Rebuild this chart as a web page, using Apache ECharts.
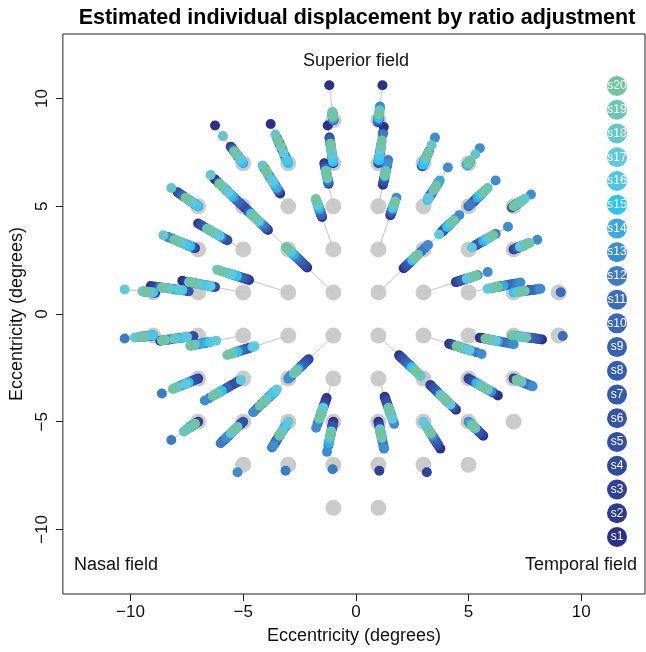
<!DOCTYPE html>
<html>
<head>
<meta charset="utf-8">
<script src="https://cdn.jsdelivr.net/npm/echarts@6/dist/echarts.min.js"></script>
<style>
  html, body { margin: 0; padding: 0; background: #fff; }
  #main { width: 646px; height: 652px; }
</style>
</head>
<body>
<div id="main"></div>
<script>
// test locations (degrees), top row to bottom row, left to right
const locX = [-1, 1,
  -5, -3, -1, 1, 3, 5,
  -7, -5, -3, -1, 1, 3, 5, 7,
  -7, -5, -3, -1, 1, 3, 5, 7,
  -9, -7, -5, -3, -1, 1, 3, 5, 7, 9,
  -9, -7, -5, -3, -1, 1, 3, 5, 7, 9,
  -7, -5, -3, -1, 1, 3, 5, 7,
  -7, -5, -3, -1, 1, 3, 5, 7,
  -5, -3, -1, 1, 3, 5,
  -1, 1];
const locY = [9, 9,
  7, 7, 7, 7, 7, 7,
  5, 5, 5, 5, 5, 5, 5, 5,
  3, 3, 3, 3, 3, 3, 3, 3,
  1, 1, 1, 1, 1, 1, 1, 1, 1, 1,
  -1, -1, -1, -1, -1, -1, -1, -1, -1, -1,
  -3, -3, -3, -3, -3, -3, -3, -3,
  -5, -5, -5, -5, -5, -5, -5, -5,
  -7, -7, -7, -7, -7, -7,
  -9, -9];

const subjects = ['s1','s2','s3','s4','s5','s6','s7','s8','s9','s10',
  's11','s12','s13','s14','s15','s16','s17','s18','s19','s20'];
const subjectColors = ['#2b3088','#2d3a92','#2e4299','#2f4aa0','#3150a6','#3254a9','#3459ad','#355db0','#3662b4','#3967b7',
  '#3a6dbb','#3c7bc5','#3d8dcf','#3ca8e0','#2cc4f4','#4bc6ea','#60c8dc','#66c6c7','#6cc6b6','#70c4a0'];

const N = null;
// displacement ratio per location, one value per subject (s1..s20)
const ratioRow9 = [
  [1.18,1.02,1.00,1.03,1.01,1.04,1.00,1.02,1.03,1.01,1.02,1.00,1.03,1.01,1.02,1.03,1.02,1.04,1.03,1.02],
  [1.18,1.00,1.02,0.99,1.01,1.00,1.02,1.00,1.01,1.03,1.00,1.06,1.07,1.02,1.01,1.03,1.04,1.05,1.04,1.03]
];
const ratioRow7 = [
  [1.25,1.11,1.06,1.10,1.04,1.08,1.02,1.09,1.03,1.05,1.07,1.01,1.04,1.00,1.01,1.02,1.03,1.18,1.06,1.08],
  [1.26,1.16,1.12,1.14,1.06,1.10,1.04,1.08,1.02,1.13,1.05,1.09,1.03,1.01,1.00,1.02,1.07,1.19,1.11,1.15],
  [1.25,1.17,1.00,1.14,1.02,1.12,1.05,1.16,1.03,1.10,1.08,1.13,1.06,1.04,1.01,1.03,1.06,1.09,1.11,1.13],
  [1.24,1.02,1.20,1.00,1.05,1.03,1.07,1.01,1.10,1.04,1.12,1.19,1.08,1.03,1.02,1.05,1.09,1.11,1.13,1.15],
  [0.99,1.01,0.98,1.03,1.00,1.05,1.02,1.04,1.06,1.01,1.03,1.08,1.17,1.00,0.99,1.02,1.04,1.12,1.07,1.05],
  [1.00,0.99,1.00,1.01,0.99,1.00,1.01,1.00,0.99,1.00,1.01,1.00,1.10,1.00,0.99,1.00,1.01,1.06,1.00,1.01]
];
const ratioRow5 = [
  [1.02,1.13,1.00,1.11,1.04,1.12,1.06,1.09,1.01,1.10,1.03,1.07,1.05,1.02,1.00,1.01,1.04,1.17,1.06,1.08],
  [1.25,1.03,1.15,1.00,1.10,1.02,1.18,1.06,1.22,1.04,1.12,1.08,1.14,1.09,1.11,1.16,1.13,1.29,1.19,1.21],
  [1.12,1.18,1.14,1.35,1.16,1.22,1.20,1.30,1.15,1.26,1.24,1.19,1.28,1.17,1.21,1.25,1.23,1.38,1.31,1.33],
  [1.40,1.21,1.38,1.23,1.36,1.25,1.33,1.27,1.22,1.35,1.30,1.24,1.32,1.29,1.31,1.28,1.26,1.30,1.33,1.29],
  [1.22,1.20,1.25,1.27,1.23,1.30,1.26,1.34,1.29,1.36,1.38,1.43,1.40,1.31,1.28,1.33,1.30,1.32,1.29,1.31],
  [1.10,1.08,1.12,1.14,1.07,1.16,1.09,1.18,1.11,1.20,1.13,1.22,1.36,1.24,1.06,1.07,1.08,1.17,1.15,1.19],
  [1.04,1.06,1.08,1.10,1.05,1.12,1.07,1.09,1.11,1.13,1.00,1.02,1.24,1.08,1.10,1.12,1.14,1.17,1.15,1.13],
  [1.01,1.00,1.02,0.99,1.01,1.03,1.00,1.02,1.01,1.04,1.02,1.05,1.11,1.03,1.02,1.04,1.05,1.07,1.03,1.00]
];
const ratioRow3 = [
  [1.02,1.04,1.06,1.08,1.03,1.05,1.10,1.16,1.07,1.12,1.19,1.14,1.18,1.09,1.05,1.08,1.11,1.22,1.13,1.15],
  [1.15,1.40,1.17,1.38,1.14,1.36,1.20,1.33,1.22,1.30,1.25,1.19,1.28,1.23,1.26,1.24,1.21,1.27,1.32,1.29],
  [1.32,1.64,1.30,1.60,1.35,1.56,1.40,1.58,1.34,1.53,1.45,1.38,1.50,1.42,1.47,1.55,1.44,1.52,1.48,1.51],
  [1.50,1.53,1.56,1.52,1.60,1.55,1.62,1.58,1.65,1.54,1.68,1.61,1.70,1.63,1.66,1.72,1.69,1.74,1.76,1.78],
  [1.55,1.53,1.58,1.56,1.60,1.57,1.62,1.59,1.64,1.61,1.66,1.70,1.80,1.63,1.67,1.65,1.69,1.72,1.71,1.74],
  [1.30,1.27,1.33,1.29,1.36,1.31,1.38,1.34,1.41,1.37,1.44,1.47,1.53,1.40,1.35,1.39,1.23,1.42,1.45,1.43],
  [1.08,1.06,1.10,1.12,1.07,1.14,1.09,1.16,1.11,1.18,1.20,1.24,1.35,1.13,1.15,1.17,1.03,1.19,1.21,1.22],
  [1.02,1.00,1.03,1.01,1.04,1.02,1.05,1.03,1.06,1.04,1.07,1.09,1.15,1.05,1.06,1.08,1.04,1.07,1.10,1.09]
];
const ratioRow1 = [
  [1.00,1.01,0.99,1.02,1.00,1.01,1.03,1.00,1.02,1.01,1.04,1.05,1.03,1.02,1.01,1.00,1.14,1.02,1.05,1.03],
  [1.30,1.07,1.28,1.09,1.25,1.06,1.22,1.11,1.19,1.13,1.16,1.24,1.15,1.12,1.14,1.10,1.12,1.18,1.21,1.23],
  [1.54,1.28,1.50,1.25,1.46,1.27,1.42,1.30,1.38,1.33,1.35,1.31,1.44,1.36,1.32,1.34,1.29,1.40,1.48,1.45],
  [1.60,1.58,1.65,1.62,1.70,1.66,1.75,1.68,1.80,1.72,1.85,1.78,1.90,1.82,1.76,1.88,1.84,2.05,1.95,2.00],
  [2.16,2.20,2.30,2.25,2.40,2.35,2.50,2.45,2.60,2.55,2.70,2.65,2.80,2.75,2.85,2.90,2.95,3.05,3.00,3.10],
  [2.12,2.18,2.25,2.22,2.35,2.30,2.45,2.40,2.55,2.60,2.90,3.05,3.20,2.65,2.50,2.70,2.58,2.75,2.62,2.68],
  [1.48,1.52,1.50,1.55,1.53,1.58,1.56,1.62,1.60,1.66,1.70,1.80,1.95,1.74,1.68,1.72,1.64,1.76,1.78,1.75],
  [1.25,1.22,1.28,1.26,1.30,1.27,1.33,1.29,1.36,1.38,1.40,1.43,1.46,1.31,1.19,1.21,1.17,1.24,1.23,1.26],
  [1.08,1.06,1.10,1.12,1.09,1.11,1.13,1.10,1.14,1.12,1.15,1.16,1.17,1.04,1.00,1.02,1.03,1.05,1.07,1.04],
  [N,N,N,N,N,N,N,N,N,N,1.01,N,N,N,N,N,N,N,N,N]
];
const ratioRowM1 = [
  [1.02,1.01,1.04,1.00,1.03,1.05,1.02,1.06,1.01,1.03,1.04,1.14,1.07,1.02,1.03,1.00,1.09,1.04,1.05,1.06],
  [1.24,1.04,1.22,1.03,1.20,1.06,1.18,1.08,1.16,1.10,1.12,1.14,1.19,1.11,1.13,1.09,1.07,1.15,1.21,1.23],
  [1.30,1.46,1.32,1.44,1.34,1.42,1.36,1.40,1.38,1.35,1.41,1.33,1.39,1.37,1.31,1.29,1.24,1.43,1.45,1.47],
  [1.58,1.62,1.55,1.65,1.60,1.68,1.64,1.72,1.66,1.75,1.70,1.78,1.74,1.80,1.76,1.53,1.50,1.85,1.82,1.90],
  [2.95,2.10,2.85,2.15,2.20,2.25,2.30,2.35,2.40,2.45,2.50,2.90,3.00,2.55,2.60,2.65,2.70,2.75,2.62,2.68],
  [1.92,1.98,2.02,2.05,2.10,2.15,2.20,2.25,2.30,2.35,2.40,2.45,2.50,2.55,2.48,2.60,2.88,2.70,2.78,2.65],
  [1.38,1.40,1.43,1.45,1.48,1.50,1.53,1.56,1.60,1.64,1.70,1.78,1.86,1.62,1.58,1.66,1.68,1.55,1.52,1.49],
  [1.10,1.12,1.14,1.16,1.18,1.20,1.22,1.25,1.28,1.31,1.34,1.37,1.40,1.26,1.23,1.21,1.24,1.19,1.17,1.15],
  [1.18,1.16,1.14,1.12,1.15,1.10,1.13,1.08,1.11,1.06,1.09,1.05,1.07,1.03,1.02,1.04,1.06,1.04,1.08,0.99],
  [N,N,N,N,N,N,N,N,N,N,1.02,N,N,N,N,N,N,N,N,N]
];
const ratioRowM3 = [
  [1.02,1.00,1.04,1.01,1.03,1.05,1.06,1.08,1.07,1.09,1.10,1.23,1.12,1.11,1.06,1.13,1.08,1.14,1.16,1.15],
  [1.08,1.05,1.10,1.04,1.12,1.06,1.15,1.18,1.14,1.20,1.24,1.30,1.34,1.22,1.19,1.25,1.02,1.27,1.23,1.26],
  [1.20,1.22,1.25,1.28,1.30,1.33,1.35,1.38,1.40,1.43,1.46,1.50,1.52,1.27,1.24,1.21,1.17,1.32,1.36,1.42],
  [1.30,1.33,1.36,1.40,1.43,1.46,1.50,1.53,1.56,1.60,1.65,1.70,1.76,1.52,1.58,1.48,1.45,1.55,1.62,1.57],
  [1.28,1.30,1.33,1.35,1.38,1.40,1.43,1.46,1.50,1.54,1.58,1.64,1.70,1.52,1.48,1.55,1.62,1.45,1.50,1.47],
  [1.48,1.12,1.10,1.45,1.15,1.18,1.42,1.20,1.23,1.26,1.30,1.38,1.35,1.28,1.32,1.25,1.40,1.30,1.27,1.33],
  [1.26,1.02,1.00,1.22,1.04,1.06,1.08,1.10,1.12,1.14,1.16,1.18,1.20,1.07,1.09,1.11,1.17,1.13,1.15,1.12],
  [1.02,1.00,1.04,1.01,1.06,1.03,1.08,1.05,1.10,1.07,1.09,1.11,1.12,1.03,1.02,1.04,1.05,1.04,1.03,1.02]
];
const ratioRowM5 = [
  [1.02,1.00,1.03,1.01,1.04,1.02,1.05,1.03,1.04,1.06,1.05,1.17,1.07,1.03,1.04,1.06,1.08,1.09,1.07,1.02],
  [1.02,1.18,1.04,1.16,1.00,1.14,1.06,1.12,1.08,1.10,1.13,1.20,1.15,1.09,1.07,1.11,1.05,1.10,1.08,1.06],
  [1.20,1.04,1.18,1.06,1.16,1.08,1.14,1.10,1.12,1.13,1.17,1.24,1.22,1.05,1.07,1.02,1.00,1.09,1.11,1.13],
  [1.00,1.02,1.04,1.03,1.06,1.05,1.08,1.10,1.12,1.15,1.18,1.22,1.28,1.20,1.16,1.13,1.11,1.09,1.14,1.12],
  [1.00,1.02,1.24,1.04,1.06,1.08,1.10,1.12,1.14,1.16,1.18,1.21,1.25,1.13,1.11,1.09,1.07,1.12,1.15,1.10],
  [1.25,1.22,1.20,1.18,1.21,1.16,1.19,1.14,1.17,1.12,1.15,1.10,1.13,1.08,1.06,1.04,1.00,1.07,1.09,1.11],
  [1.13,1.11,1.12,1.09,1.10,1.07,1.08,1.05,1.06,1.03,1.04,1.01,1.00,1.02,1.03,1.05,1.04,1.06,1.05,1.03],
  [N,N,N,N,N,N,N,N,N,N,N,N,N,N,N,N,N,N,N,N]
];
const ratioRowM7 = [
  [N,N,N,N,N,N,N,N,N,N,N,N,1.05,N,N,N,N,N,N,N],
  [N,N,N,N,N,N,N,N,N,N,N,1.04,N,N,N,N,N,N,N,N],
  [N,N,N,N,N,N,N,N,N,N,N,1.03,N,N,N,N,N,N,N,N],
  [N,N,1.04,N,N,N,N,N,N,N,N,N,N,N,N,N,N,N,N,N],
  [N,N,1.05,N,N,N,N,N,N,N,N,N,N,N,N,N,N,N,N,N],
  [N,N,N,N,N,N,N,N,N,N,N,N,N,N,N,N,N,N,N,N]
];
const ratioRowM9 = [
  [N,N,N,N,N,N,N,N,N,N,N,N,N,N,N,N,N,N,N,N],
  [N,N,N,N,N,N,N,N,N,N,N,N,N,N,N,N,N,N,N,N]
];

const xTicks = [-10, -5, 0, 5, 10];
const yTicks = [-10, -5, 0, 5, 10];

const FONT = '"Liberation Sans", Arial, Helvetica, sans-serif';
const ratios = [].concat(ratioRow9, ratioRow7, ratioRow5, ratioRow3, ratioRow1,
  ratioRowM1, ratioRowM3, ratioRowM5, ratioRowM7, ratioRowM9);

const minus = v => String(v).replace('-', '\u2212');

// grey lines from each location to its furthest estimate
const linkData = [];
locX.forEach((x, i) => {
  const vals = ratios[i].filter(r => r !== null);
  if (!vals.length) return;
  const far = Math.max.apply(null, vals);
  linkData.push({ coords: [[x, locY[i]], [x * far, locY[i] * far]] });
});

const subjectSeries = subjects.map((name, s) => {
  const pts = [];
  locX.forEach((x, i) => {
    const r = ratios[i][s];
    if (r !== null) pts.push([x * r, locY[i] * r]);
  });
  return {
    name: name,
    type: 'scatter',
    xAxisIndex: 0, yAxisIndex: 0,
    symbolSize: 10,
    itemStyle: { color: subjectColors[s], opacity: 1 },
    data: pts,
    z: 4,
    silent: true
  };
});

const legendData = subjects.map((name, s) => ({
  name: name,
  value: [0, s + 1],
  itemStyle: { color: subjectColors[s], opacity: 1 }
}));

const chart = echarts.init(document.getElementById('main'));
chart.setOption({
  animation: false,
  textStyle: { fontFamily: FONT },
  grid: [
    { left: 62, right: 1, top: 34, bottom: 58, show: true, borderColor: '#222', borderWidth: 1 },
    { left: 607, width: 20, top: 62.3, bottom: 91.3 }
  ],
  xAxis: [
    {
      type: 'value', gridIndex: 0, min: -13, max: 12.83,
      splitLine: { show: false },
      axisLine: { show: false, onZero: false },
      axisTick: { show: true, length: 7, customValues: xTicks, lineStyle: { color: '#222' } },
      axisLabel: { customValues: xTicks, formatter: minus, fontSize: 17, color: '#111', margin: 10, fontFamily: FONT },
      name: 'Eccentricity (degrees)', nameLocation: 'middle', nameGap: 33,
      nameTextStyle: { fontSize: 18, color: '#111', fontFamily: FONT }
    },
    { type: 'value', gridIndex: 1, min: -1, max: 1, show: false }
  ],
  yAxis: [
    {
      type: 'value', gridIndex: 0, min: -13, max: 13,
      splitLine: { show: false },
      axisLine: { show: false, onZero: false },
      axisTick: { show: true, length: 7, customValues: yTicks, lineStyle: { color: '#222' } },
      axisLabel: { customValues: yTicks, formatter: minus, rotate: 90, fontSize: 17, color: '#111', margin: 12, fontFamily: FONT },
      name: 'Eccentricity (degrees)', nameLocation: 'middle', nameGap: 32,
      nameTextStyle: { fontSize: 18, color: '#111', fontFamily: FONT }
    },
    { type: 'value', gridIndex: 1, min: 0, max: 21, show: false }
  ],
  graphic: [
    { type: 'text', x: 357, y: 18, style: { text: 'Estimated individual displacement by ratio adjustment', font: 'bold 21.5px ' + FONT, fill: '#000', textAlign: 'center', textVerticalAlign: 'middle' } },
    { type: 'text', x: 356, y: 61, style: { text: 'Superior field', font: '18px ' + FONT, fill: '#111', textAlign: 'center', textVerticalAlign: 'middle' } },
    { type: 'text', x: 74, y: 565, style: { text: 'Nasal field', font: '18px ' + FONT, fill: '#111', textAlign: 'left', textVerticalAlign: 'middle' } },
    { type: 'text', x: 637, y: 565, style: { text: 'Temporal field', font: '18px ' + FONT, fill: '#111', textAlign: 'right', textVerticalAlign: 'middle' } }
  ],
  series: [
    {
      name: 'locations', type: 'scatter', xAxisIndex: 0, yAxisIndex: 0,
      symbolSize: 16, itemStyle: { color: '#cbcbcb', opacity: 1 },
      data: locX.map((x, i) => [x, locY[i]]), z: 2, silent: true
    },
    {
      name: 'links', type: 'lines', coordinateSystem: 'cartesian2d', xAxisIndex: 0, yAxisIndex: 0,
      lineStyle: { color: '#c4c4c4', width: 1, opacity: 1 },
      data: linkData, z: 3, silent: true
    }
  ].concat(subjectSeries, [
    {
      name: 'legend', type: 'scatter', xAxisIndex: 1, yAxisIndex: 1,
      symbolSize: 20, data: legendData, silent: true,
      label: { show: true, position: 'inside', formatter: p => p.name, color: '#fff', fontSize: 12, fontFamily: FONT }
    }
  ])
});
</script>
</body>
</html>
